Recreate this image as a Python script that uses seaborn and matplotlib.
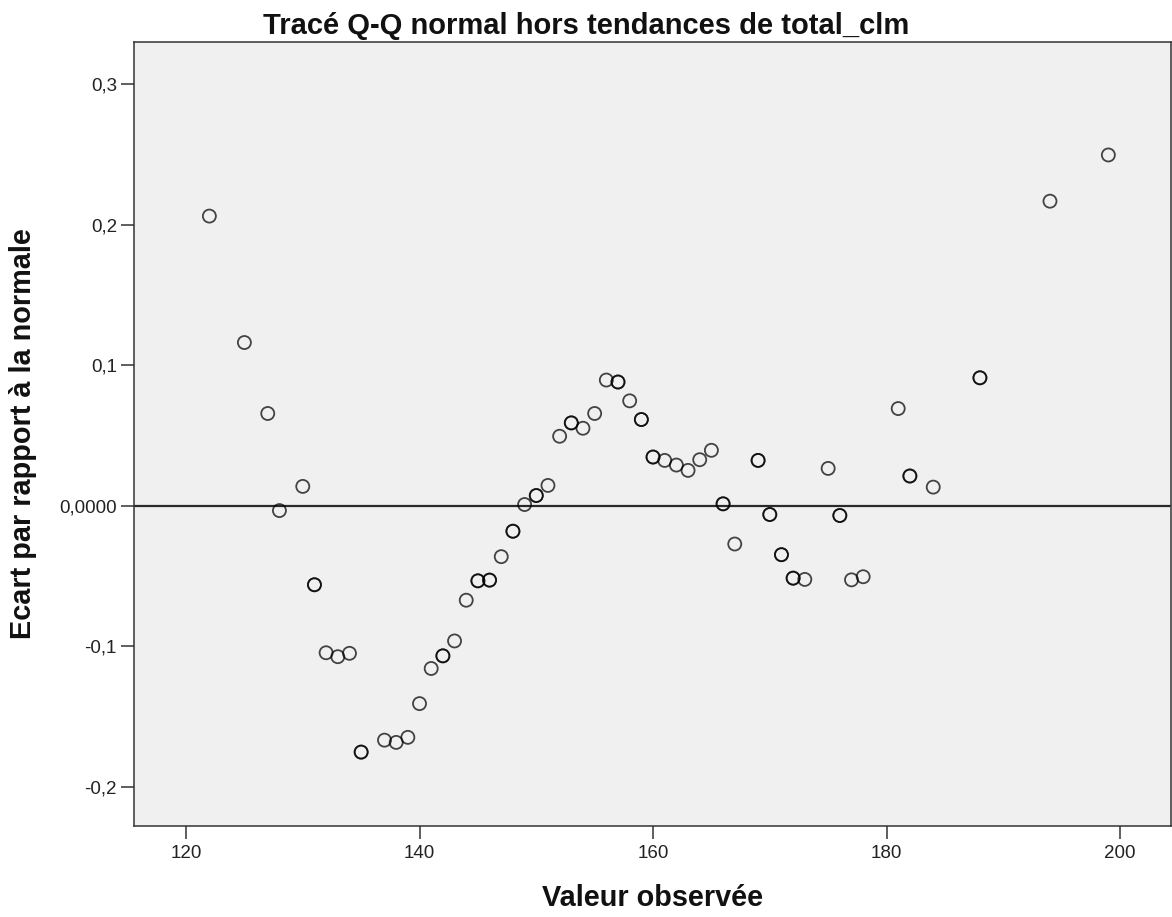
import numpy as np
import pandas as pd
import matplotlib
matplotlib.use("Agg")
import matplotlib.pyplot as plt
import seaborn as sns

# ---- data ----
observed = [122, 125, 127, 128, 130, 131, 132, 133, 134, 135, 137, 138, 139, 140,
            141, 142, 143, 144, 145, 146, 147, 148, 149, 150, 151, 152, 153, 154,
            155, 156, 157, 158, 159, 160, 161, 162, 163, 164, 165, 166, 167, 169,
            170, 171, 172, 173, 175, 176, 177, 178, 181, 182, 184, 188, 194, 199]
deviation = [0.206, 0.116, 0.0655, -0.0036, 0.0136, -0.0564, -0.1048, -0.1076,
             -0.1052, -0.1755, -0.167, -0.1686, -0.165, -0.141, -0.116, -0.107,
             -0.0964, -0.0674, -0.0536, -0.0531, -0.0364, -0.0183, 0.0007, 0.0071,
             0.0143, 0.0493, 0.0588, 0.055, 0.0655, 0.0893, 0.0879, 0.0745, 0.0612,
             0.0345, 0.0321, 0.0288, 0.025, 0.0326, 0.0393, 0.0012, -0.0274, 0.0321,
             -0.0064, -0.035, -0.0517, -0.0526, 0.0264, -0.0071, -0.0529, -0.0507,
             0.069, 0.021, 0.0131, 0.0909, 0.2166, 0.2495]
# number of tied observations at each value
ties = [1, 1, 1, 1, 1, 2, 1, 1, 1, 2, 1, 1, 1, 1,
        1, 2, 1, 1, 2, 2, 1, 2, 1, 2, 1, 1, 2, 1,
        1, 1, 2, 1, 2, 2, 1, 1, 1, 1, 1, 2, 1, 2,
        2, 2, 2, 1, 1, 2, 1, 1, 1, 2, 1, 2, 1, 1]
x_ticks = [120, 140, 160, 180, 200]
x_tick_labels = ["120", "140", "160", "180", "200"]
y_ticks = [-0.2, -0.1, 0.0, 0.1, 0.2, 0.3]
y_tick_labels = ["-0,2", "-0,1", "0,0000", "0,1", "0,2", "0,3"]
title = "Tracé Q-Q normal hors tendances de total_clm"
x_label = "Valeur observée"
y_label = "Ecart par rapport à la normale"

df = pd.DataFrame({"obs": np.repeat(observed, ties),
                   "dev": np.repeat(deviation, ties)})

sns.set_style("white")
plt.rcParams["font.family"] = ["Liberation Sans", "DejaVu Sans"]

W, H = 1172, 917
fig = plt.figure(figsize=(W / 100, H / 100), dpi=100)
left, right, top, bottom = 134.3, 1170.7, 42, 826
ax = fig.add_axes([left / W, 1 - bottom / H, (right - left) / W, (bottom - top) / H])
ax.set_facecolor("#F0F0F0")

ax.axhline(0, color="#2a2a2a", lw=1.6, zorder=1)

sns.scatterplot(data=df, x="obs", y="dev", ax=ax, color="black", s=88,
                marker="o", linewidth=1.3, alpha=0.72, zorder=3, legend=False)
pts = ax.collections[-1]
pts.set_facecolor("none")
pts.set_edgecolor((0, 0, 0, 0.72))

ax.set_xlim(115.57, 204.34)
ax.set_ylim(-0.2281, 0.3299)
ax.set_xticks(x_ticks)
ax.set_xticklabels(x_tick_labels)
ax.set_yticks(y_ticks)
ax.set_yticklabels(y_tick_labels)
ax.tick_params(axis="both", which="major", direction="out", length=9.5, width=1.1,
               color="#333333", labelsize=13.5, labelcolor="#222222",
               bottom=True, left=True, top=False, right=False)
ax.tick_params(axis="x", pad=4)
ax.tick_params(axis="y", pad=3)
for sp in ax.spines.values():
    sp.set_visible(True)
    sp.set_color("#333333")
    sp.set_linewidth(1.1)

ax.set_xlabel("")
ax.set_ylabel("")
fig.text(586 / W, 1 - 26 / H, title, ha="center", va="center",
         fontsize=21, fontweight="bold", color="#111111")
fig.text((left + right) / 2 / W, 1 - 898 / H, x_label, ha="center", va="center",
         fontsize=20.8, fontweight="bold", color="#111111")
fig.text(23 / W, 1 - ((top + bottom) / 2) / H, y_label, ha="center", va="center",
         rotation=90, fontsize=20.8, fontweight="bold", color="#111111")

fig.savefig("out.png", dpi=100, facecolor="white")
